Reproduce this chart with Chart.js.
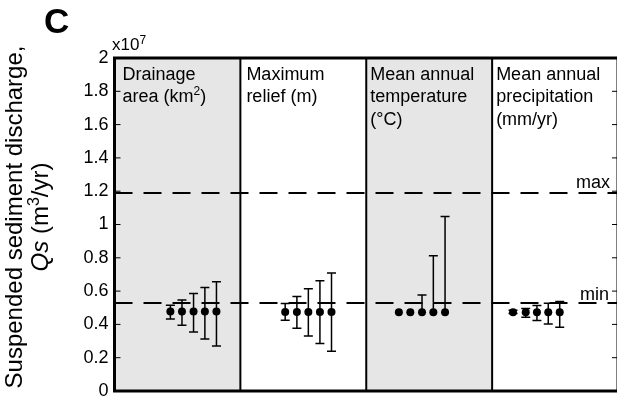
<!DOCTYPE html>
<html>
<head>
<meta charset="utf-8">
<script src="https://cdn.jsdelivr.net/npm/chart.js@4.4.1/dist/chart.umd.min.js"></script>
<style>
  html, body { margin: 0; padding: 0; background: #fff; overflow: hidden; }
  #wrap { width: 622px; height: 396px; }
</style>
</head>
<body>
<div id="wrap"><canvas id="qsChart" width="622" height="396"></canvas></div>
<script>
// all Qs values in units of 10^7 m3/yr
var panelLabels = [
  ["Drainage", "area (km^2)"],
  ["Maximum", "relief (m)"],
  ["Mean annual", "temperature", "(°C)"],
  ["Mean annual", "precipitation", "(mm/yr)"]
];
var shadedPanels = [0, 2];
var yTitle = ["Suspended sediment discharge,", "*Qs* (m^3/yr)"];

var drainageX = [0.444, 0.536, 0.628, 0.718, 0.81];
var drainageQs = [0.477, 0.477, 0.477, 0.477, 0.477];
var drainageLow = [0.433, 0.395, 0.355, 0.313, 0.271];
var drainageHigh = [0.515, 0.547, 0.585, 0.621, 0.656];

var reliefX = [1.356, 1.449, 1.54, 1.632, 1.724];
var reliefQs = [0.475, 0.475, 0.475, 0.475, 0.475];
var reliefLow = [0.425, 0.377, 0.331, 0.285, 0.239];
var reliefHigh = [0.525, 0.567, 0.614, 0.662, 0.708];

var tempX = [2.259, 2.35, 2.443, 2.533, 2.626];
var tempQs = [0.473, 0.473, 0.473, 0.473, 0.473];
var tempLow = [0.473, 0.473, 0.473, 0.473, 0.473];
var tempHigh = [0.473, 0.473, 0.577, 0.812, 1.048];

var precipX = [3.166, 3.267, 3.356, 3.446, 3.537];
var precipQs = [0.473, 0.473, 0.473, 0.473, 0.473];
var precipLow = [0.465, 0.443, 0.423, 0.403, 0.383];
var precipHigh = [0.485, 0.495, 0.513, 0.527, 0.537];

var qsMax = 1.189;
var qsMin = 0.528;
var yMin = 0, yMax = 2, yStep = 0.2;

var FONT = '"Liberation Sans", Arial, sans-serif';
Chart.defaults.font.family = FONT;
Chart.defaults.color = "#000";

function pts(xs, ys, lo, hi) {
  return xs.map(function (x, i) { return { x: x, y: ys[i], lo: lo[i], hi: hi[i] }; });
}
function pointSet(data) {
  return {
    type: "scatter",
    data: data,
    pointRadius: 4,
    pointHoverRadius: 4,
    backgroundColor: "#000",
    borderWidth: 0,
    order: 0
  };
}
function dashSet(v) {
  return {
    type: "line",
    data: [{ x: 0, y: v }, { x: 4, y: v }],
    borderColor: "#000",
    borderWidth: 2,
    borderDash: [18, 11],
    pointRadius: 0,
    fill: false,
    order: 1
  };
}

// text with *italic* and ^superscript markers
function parseRich(str) {
  var segs = [], it = false, buf = "", i = 0;
  while (i < str.length) {
    var c = str[i];
    if (c === "*") { if (buf) segs.push({ t: buf, it: it }); buf = ""; it = !it; i++; continue; }
    if (c === "^") { if (buf) segs.push({ t: buf, it: it }); buf = ""; segs.push({ t: str[i + 1], it: it, sup: true }); i += 2; continue; }
    buf += c; i++;
  }
  if (buf) segs.push({ t: buf, it: it });
  return segs;
}
function segFont(s, size) {
  return (s.it ? "italic " : "") + (s.sup ? Math.round(size * 0.68) : size) + "px " + FONT;
}
function drawRich(ctx, str, x, y, size, align) {
  var segs = parseRich(str), w = 0;
  segs.forEach(function (s) { ctx.font = segFont(s, size); s.w = ctx.measureText(s.t).width; w += s.w; });
  var cx = align === "center" ? x - w / 2 : x;
  ctx.textAlign = "left";
  ctx.textBaseline = "alphabetic";
  segs.forEach(function (s) {
    ctx.font = segFont(s, size);
    ctx.fillText(s.t, cx, s.sup ? y - size * 0.38 : y);
    cx += s.w;
  });
}

var panelPlugin = {
  id: "panels",
  beforeDatasetsDraw: function (chart) {
    var ctx = chart.ctx, a = chart.chartArea, xs = chart.scales.x, ys = chart.scales.y;
    ctx.save();
    ctx.fillStyle = "#e6e6e7";
    shadedPanels.forEach(function (p) {
      var l = xs.getPixelForValue(p), r = xs.getPixelForValue(p + 1);
      ctx.fillRect(l, a.top, r - l, a.bottom - a.top);
    });
    ctx.strokeStyle = "#000";
    ctx.lineWidth = 2;
    for (var p = 1; p < 4; p++) {
      var px = xs.getPixelForValue(p);
      ctx.beginPath(); ctx.moveTo(px, a.top); ctx.lineTo(px, a.bottom); ctx.stroke();
    }
    // inward ticks on both sides
    ctx.lineWidth = 1;
    ys.ticks.forEach(function (t) {
      var py = ys.getPixelForValue(t.value);
      ctx.beginPath();
      ctx.moveTo(a.left, py); ctx.lineTo(a.left + 6, py);
      ctx.moveTo(a.right - 6, py); ctx.lineTo(a.right, py);
      ctx.stroke();
    });
    // error bars
    ctx.lineWidth = 1.5;
    chart.data.datasets.forEach(function (ds) {
      if (ds.type !== "scatter") return;
      ds.data.forEach(function (d) {
        var px = xs.getPixelForValue(d.x);
        var top = ys.getPixelForValue(d.hi), bot = ys.getPixelForValue(d.lo);
        var mid = ys.getPixelForValue(d.y);
        ctx.beginPath();
        ctx.moveTo(px, top); ctx.lineTo(px, bot);
        if (d.hi > d.y) { ctx.moveTo(px - 4.5, top); ctx.lineTo(px + 4.5, top); }
        if (d.lo < d.y) { ctx.moveTo(px - 4.5, bot); ctx.lineTo(px + 4.5, bot); }
        ctx.stroke();
      });
    });
    ctx.restore();
  },
  afterDraw: function (chart) {
    var ctx = chart.ctx, a = chart.chartArea, xs = chart.scales.x, ys = chart.scales.y;
    ctx.save();
    ctx.strokeStyle = "#000";
    ctx.lineWidth = 3;
    ctx.strokeRect(a.left, a.top, a.right - a.left, a.bottom - a.top);
    ctx.fillStyle = "#000";
    var pad = [8, 6, 4, 4];
    panelLabels.forEach(function (lines, p) {
      var lx = xs.getPixelForValue(p) + pad[p];
      lines.forEach(function (ln, i) { drawRich(ctx, ln, lx, a.top + 21.5 + i * 22.5, 18, "left"); });
    });
    drawRich(ctx, "max", 576, ys.getPixelForValue(qsMax) - 5, 18, "left");
    drawRich(ctx, "min", 580, ys.getPixelForValue(qsMin) - 3, 18, "left");
    drawRich(ctx, "x10^7", 112, 50, 17, "left");
    ctx.font = "bold 35px " + FONT;
    ctx.textAlign = "left";
    ctx.fillText("C", 44, 33);
    // y axis title, rotated
    ctx.translate(0, 217);
    ctx.rotate(-Math.PI / 2);
    drawRich(ctx, yTitle[0], 0, 22, 24, "center");
    drawRich(ctx, yTitle[1], 0, 48, 24, "center");
    ctx.restore();
  }
};

new Chart(document.getElementById("qsChart"), {
  type: "scatter",
  data: {
    datasets: [
      pointSet(pts(drainageX, drainageQs, drainageLow, drainageHigh)),
      pointSet(pts(reliefX, reliefQs, reliefLow, reliefHigh)),
      pointSet(pts(tempX, tempQs, tempLow, tempHigh)),
      pointSet(pts(precipX, precipQs, precipLow, precipHigh)),
      dashSet(qsMax),
      dashSet(qsMin)
    ]
  },
  options: {
    responsive: false,
    animation: false,
    layout: { padding: { top: 58, right: 2.5, bottom: 5, left: 0 } },
    plugins: { legend: { display: false }, tooltip: { enabled: false } },
    scales: {
      x: { type: "linear", min: 0, max: 4, display: false },
      y: {
        type: "linear",
        min: yMin,
        max: yMax,
        grid: { display: false, drawTicks: false },
        border: { display: false },
        ticks: {
          stepSize: yStep,
          padding: 6,
          font: { size: 18 },
          color: "#000",
          callback: function (v) { return String(Math.round(v * 10) / 10); }
        },
        afterFit: function (s) { s.width = 114.5; s.paddingTop = 0; s.paddingBottom = 0; }
      }
    }
  },
  plugins: [panelPlugin]
});
</script>
</body>
</html>
